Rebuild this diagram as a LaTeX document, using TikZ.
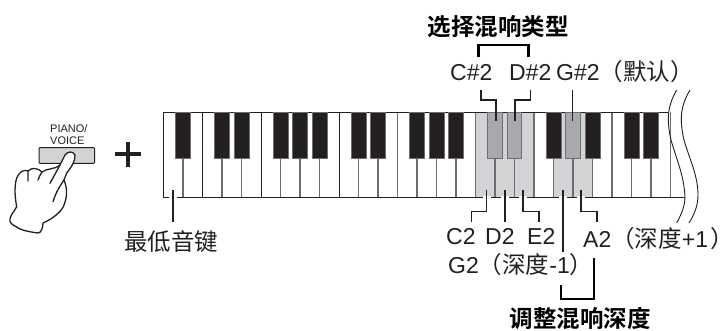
\documentclass[tikz,border=0pt]{standalone}
\usepackage{fontspec}
\setmainfont{Liberation Sans}
\newfontfamily\cjk{Noto Sans CJK SC}
\newfontfamily\cjkp[RawFeature=+palt]{Noto Sans CJK SC}
\newfontfamily\cjkb{Noto Sans CJK SC Bold}
\definecolor{keyblack}{HTML}{231F20}
\definecolor{keygray}{HTML}{A7A9AC}
\definecolor{keylight}{HTML}{D1D3D4}
\definecolor{linegray}{HTML}{6D6E71}
\tikzset{
 blackkey/.style={fill=keyblack,draw=linegray,line width=0.5pt},
 graykey/.style={fill=keygray,draw=linegray,line width=1pt},
 keyline/.style={draw=linegray,line width=1.1pt},
 keydark/.style={draw=keyblack,line width=1pt},
 leader/.style={draw=keyblack,line width=1.2pt},
 brace/.style={draw=black,line width=2.2pt},
 handline/.style={draw=keyblack,line width=1.3pt,line cap=round,line join=round},
 lab/.style={inner sep=0pt,anchor=base west,font=\fontsize{23}{23}\selectfont,text=keyblack},
 title/.style={inner sep=0pt,anchor=base,font=\fontsize{23.5}{23.5}\selectfont\cjkb,text=black}
}
\newcommand{\kx}[1]{\fpeval{163.5+19.5*(#1)}}
\newcommand{\zh}[1]{{\cjk\fontsize{23.5}{23.5}\selectfont #1}}
\begin{document}
\begin{tikzpicture}[x=1pt,y=-1pt]
\useasboundingbox (0,0) rectangle (723,330);
\fill[keylight] ({\kx{16}},112) rectangle ({\kx{19}},197);
\fill[keylight] ({\kx{20}},112) rectangle ({\kx{22}},197);
\foreach \k in {1,3,4,6,7,8,10,11,12,13,14,15,16,17,18,19,20,21,22,23,24,25,26}{
  \draw[keyline] ({\kx{\k}},112) -- ({\kx{\k}},197);
}
\foreach \k in {2,5,9}{
  \draw[keydark] ({\kx{\k}},112) -- ({\kx{\k}},197);
}
\draw[draw=keyblack,line width=1pt] (668,112) -- ({\kx{0}},112) -- ({\kx{0}},197) -- (685,197);
\foreach \k in {1,3,4,6,7,8,10,11,13,14,15,20,22,24,25}{
  \filldraw[blackkey] ({\kx{\k}-7.3},112) rectangle ({\kx{\k}+7.3},158);
}
\foreach \k in {17,18,21}{
  \filldraw[graykey] ({\kx{\k}-7.3},112) rectangle ({\kx{\k}+7.3},158);
}
% break curves
\draw[draw=keyblack,line width=0.9pt] (676.7,90) .. controls (668,105) and (666,118) .. (671,140) .. controls (676,158) and (684,175) .. (685,197) .. controls (685,206) and (681,215) .. (676.7,223);
\draw[draw=keyblack,line width=0.9pt] (690,90) .. controls (681,105) and (679,118) .. (684,140) .. controls (689,158) and (698,175) .. (698,195) .. controls (698,206) and (694,215) .. (689,223);
% gaps in the bottom edge round the leaders
\foreach \x in {173,486.5,505,523,563,581}{
  \fill[white] (\x-4,195.5) rectangle (\x+4,198.5);
}
% leaders
\draw[leader] (481,90) -- (481,100) -- (496,100) -- (496,121);
\draw[leader] (530.7,90) -- (530.7,100) -- (515,100) -- (515,121);
\draw[leader] (572.3,90) -- (572.3,121);
\draw[leader] (486.5,190) -- (486.5,211.5) -- (471.5,211.5) -- (471.5,222);
\draw[leader] (505,190) -- (505,222);
\draw[leader] (523,190) -- (523,211.5) -- (539,211.5) -- (539,222);
\draw[leader] (563,190) -- (563,252);
\draw[leader] (581,190) -- (581,211.5) -- (597,211.5) -- (597,222);
\draw[leader] (173,190) -- (173,222);
% brackets
\draw[brace] (478.5,57) -- (478.5,45) -- (528.5,45) -- (528.5,57);
\draw[brace] (561,285) -- (561,299) -- (594,299) -- (594,258);
% labels
\node[title] (t1) at (498,35) {选择混响类型};
\node[title] (t2) at (580,327) {调整混响深度};
\node[lab] (c) at (450,80.5) {C\#2};
\node[lab] (d) at (509,80.5) {D\#2};
\node[lab] (g) at (556,80.5) {G\#2\zh{（默认）}};
\node[lab] (c2) at (446,244) {C2};
\node[lab] (d2) at (485,244) {D2};
\node[lab] (e2) at (527,244) {E2};
\node[lab] (a2) at (583,247) {A2\zh{（深度}+1\hspace{3pt}{\cjkp\fontsize{23.5}{23.5}\selectfont ）}};
\node[lab] (g2) at (448,273) {G2\zh{（深度}-1\zh{）}};
\node[lab] (low) at (124,250) {\zh{最低音键}};
% plus
\draw[draw=keyblack,line width=3.6pt] (115,154) -- (141,154);
\draw[draw=keyblack,line width=3.6pt] (128,141.5) -- (128,167);
% button
\node[inner sep=0pt,anchor=base west,font=\fontsize{11}{11}\selectfont,text=keyblack] (pv1) at (50,132.7) {PIANO/};
\node[inner sep=0pt,anchor=base west,font=\fontsize{11}{11}\selectfont,text=keyblack] (pv2) at (50,144) {VOICE};
\filldraw[fill=keylight,draw=keyblack,line width=1pt,rounded corners=0.8pt] (39,147.7) rectangle (94.5,163.3);
% hand: white body, then outline
\fill[white] (60,165) -- (65,155) .. controls (68,151) and (73,151) .. (75,155) .. controls (75,162) and (70,168) .. (64,180) .. controls (68,190) and (67,198) .. (63.3,206.7) .. controls (60,213) and (52,219) .. (43,223) .. controls (43,228) and (41,233) .. (38,233) .. controls (30,232) and (20,230) .. (16.7,227) .. controls (12,225) and (9,222) .. (10,219) .. controls (11,214) and (14,212) .. (16.7,206.7) .. controls (15,198) and (14,187) .. (16.7,178) .. controls (19,172) and (24,169) .. (28,171) .. controls (32,167) and (38,168) .. (42,172) .. controls (47,168) and (54,170) .. (60,165) -- cycle;
\draw[handline] (50,183.3) -- (60,165) -- (65,155) .. controls (68,151) and (73,151) .. (75,155) .. controls (75,162) and (72,166) .. (66.7,173) -- (64,180) .. controls (60,186) and (56,192) .. (53,201.7);
\draw[handline] (64,180) .. controls (68,190) and (67,198) .. (63.3,206.7) .. controls (60,213) and (52,219) .. (43,223) .. controls (43,228) and (41,233) .. (38,233) .. controls (30,232) and (20,230) .. (16.7,227) .. controls (12,225) and (9,222) .. (10,219) .. controls (11,214) and (14,212) .. (16.7,206.7) .. controls (15,198) and (14,187) .. (16.7,178) .. controls (19,172) and (24,169) .. (28,171);
\draw[handline] (60,165) .. controls (54,170) and (47,168) .. (42,172) .. controls (40,175) and (39,177) .. (38,180);
\draw[handline] (42,172) .. controls (38,168) and (32,167) .. (28,171) .. controls (28,175) and (28,178) .. (28,181);
\end{tikzpicture}
\end{document}
